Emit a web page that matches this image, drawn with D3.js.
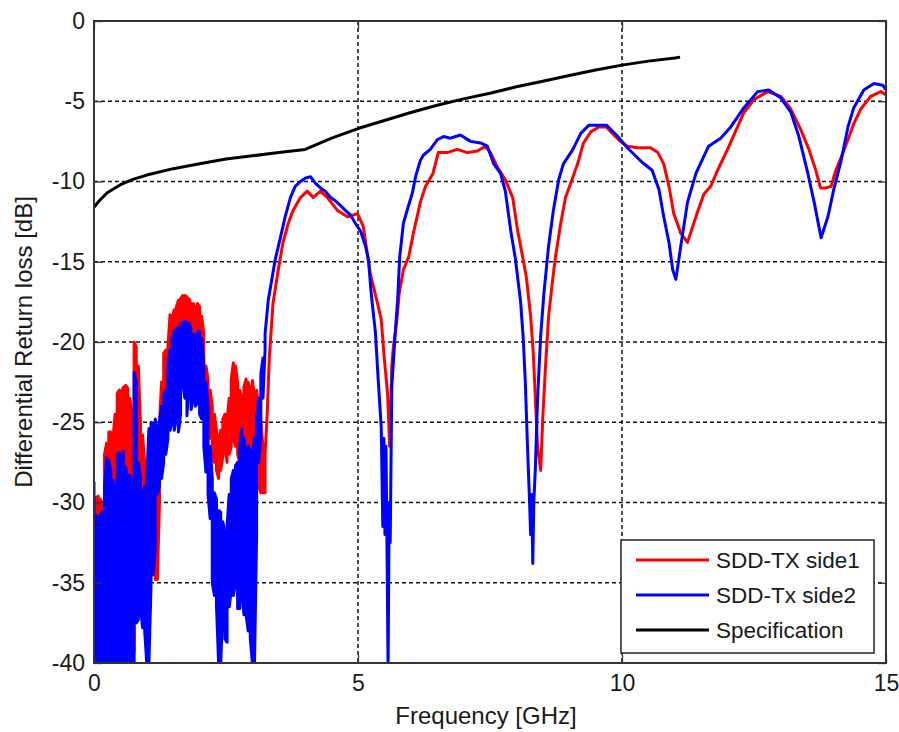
<!DOCTYPE html>
<html><head><meta charset="utf-8">
<script src="https://cdn.jsdelivr.net/npm/d3@7"></script>
<style>body{margin:0;background:#fff;} text{font-family:"Liberation Sans",Arial,sans-serif;}</style>
</head><body><svg id="c" width="899" height="732"></svg>
<script>
// ---- Data ----
const xTicks = [0, 5, 10, 15];
const yTicks = [0, -5, -10, -15, -20, -25, -30, -35, -40];
const seriesNames = ["SDD-TX side1", "SDD-Tx side2", "Specification"];
const xLabel = "Frequency [GHz]";
const yLabel = "Differential Return loss [dB]";

// Noisy low-frequency region: per-column envelope (GHz, dB)
const noiseF = [0.00,0.04,0.08,0.12,0.16,0.20,0.24,0.28,0.32,0.36,0.40,0.44,0.48,0.52,0.56,0.60,0.64,0.68,0.72,0.76,
  0.80,0.84,0.88,0.92,0.96,1.00,1.04,1.08,1.12,1.16,1.20,1.24,1.28,1.32,1.36,1.40,1.44,1.48,1.52,1.56,
  1.60,1.64,1.68,1.72,1.76,1.80,1.84,1.88,1.92,1.96,2.00,2.04,2.08,2.12,2.16,2.20,2.24,2.28,2.32,2.36,
  2.40,2.44,2.48,2.52,2.56,2.60,2.64,2.68,2.72,2.76,2.80,2.84,2.88,2.92,2.96,3.00,3.04,3.08,3.12,3.16,3.20,3.24];
const redTop = [-31.0,-29.7,-29.6,-29.8,-30.0,-27.0,-26.3,-25.6,-25.6,-26.0,-24.5,-23.2,-23.0,-23.1,-22.8,-22.7,-22.9,-23.5,-24.6,-20.0,
  -20.3,-21.5,-25.0,-25.8,-27.5,-27.7,-27.5,-26.0,-25.5,-26.0,-26.0,-25.0,-22.5,-20.7,-20.5,-20.3,-18.3,-18.5,-18.0,-17.8,
  -17.4,-17.3,-17.1,-17.1,-17.2,-17.3,-17.7,-17.6,-17.9,-17.6,-17.8,-18.4,-19.5,-21.5,-22.3,-23.0,-24.0,-24.5,-25.5,-26.0,
  -25.5,-24.8,-24.5,-25.0,-23.5,-22.3,-21.3,-21.5,-22.5,-23.0,-23.5,-22.8,-22.3,-22.5,-23.0,-22.4,-23.4,-23.0,-24.0,-25.0,-26.5,-27.0];
const redBot = [-34.0,-33.5,-33.0,-40.0,-32.8,-31.0,-30.0,-30.0,-30.5,-31.0,-30.0,-29.0,-29.0,-29.5,-29.0,-29.0,-30.0,-30.5,-31.0,-39.3,
  -33.0,-32.0,-31.0,-31.9,-32.0,-32.0,-31.0,-30.0,-30.0,-34.8,-34.8,-30.0,-27.0,-26.0,-25.5,-25.0,-24.0,-23.5,-23.0,-23.0,
  -23.0,-22.5,-21.5,-22.0,-22.5,-21.5,-22.5,-22.0,-22.5,-22.0,-22.5,-23.0,-24.0,-25.0,-25.5,-26.0,-27.0,-27.5,-28.0,-28.5,
  -28.0,-27.1,-26.5,-27.5,-27.0,-26.5,-26.0,-26.5,-27.0,-27.5,-27.0,-26.5,-26.0,-26.5,-27.0,-26.5,-27.0,-27.5,-29.0,-29.4,-29.4,-29.4];
const blueTop = [-28.7,-30.8,-31.0,-30.8,-30.6,-29.0,-27.2,-27.4,-28.0,-28.6,-29.2,-27.0,-26.9,-27.5,-26.8,-27.8,-28.5,-28.3,-28.8,-21.9,
  -22.5,-27.5,-28.4,-29.5,-29.0,-28.5,-25.4,-25.0,-25.2,-24.8,-25.5,-25.0,-24.0,-23.4,-23.0,-21.5,-20.5,-19.8,-19.3,-19.2,
  -19.1,-18.9,-18.8,-18.7,-18.9,-18.8,-19.3,-19.6,-19.5,-19.3,-19.4,-19.8,-21.5,-22.5,-24.0,-26.5,-28.5,-29.4,-29.8,-30.5,
  -30.6,-31.2,-31.9,-31.5,-29.5,-28.5,-28.0,-27.7,-27.5,-26.5,-25.4,-26.0,-26.9,-26.5,-26.8,-27.0,-26.0,-24.8,-23.5,-22.0,-21.0,-19.5];
const blueBot = [-40,-40,-40,-40,-40,-40,-40,-40,-40,-40,-40,-40,-40,-40,-40,-40,-40,-40,-40,-40,
  -37.5,-37.3,-36.5,-37.8,-38.0,-40,-40,-35.2,-34.5,-33.0,-29.5,-29.0,-28.5,-27.5,-27.0,-26.0,-25.5,-25.0,-25.5,-24.8,
  -25.6,-24.5,-22.5,-23.5,-24.6,-22.8,-24.2,-23.5,-24.0,-23.8,-24.5,-24.8,-26.5,-28.1,-29.5,-31.0,-35.0,-35.8,-36.5,-40,
  -40,-36.5,-38.5,-38.7,-36.5,-35.5,-35.8,-35.0,-36.6,-36.6,-35.5,-37.0,-37.0,-38.0,-38.5,-40,-40,-32.0,-27.5,-26.0,-23.5,-20.5];

// Smooth region above ~3.3 GHz
const redF = [3.28,3.32,3.39,3.49,3.58,3.68,3.77,3.91,4.04,4.15,4.29,4.42,4.61,4.80,4.99,5.10,5.23,5.37,5.44,5.50,
  5.56,5.60,5.64,5.67,5.73,5.78,5.86,5.96,6.05,6.18,6.28,6.42,6.52,6.69,6.88,7.07,7.26,7.41,7.51,7.64,
  7.79,7.93,8.02,8.13,8.19,8.27,8.32,8.36,8.40,8.46,8.50,8.55,8.61,8.68,8.74,8.84,8.93,9.03,9.16,9.27,
  9.41,9.56,9.70,9.82,9.97,10.10,10.30,10.54,10.68,10.79,10.89,10.98,11.11,11.24,11.34,11.44,11.55,11.68,11.81,12.00,
  12.16,12.31,12.50,12.76,13.01,13.20,13.39,13.54,13.67,13.76,13.86,13.96,14.05,14.15,14.28,14.39,14.52,14.71,14.90,15.00];
const redDB = [-24.5,-21.0,-17.6,-15.5,-13.8,-12.6,-11.8,-11.0,-10.6,-11.0,-10.6,-11.0,-11.8,-12.2,-12.0,-12.8,-15.7,-17.6,-18.6,-21.1,
  -23.2,-26.5,-21.5,-20.3,-18.8,-17.0,-15.5,-14.7,-13.2,-11.3,-10.3,-9.5,-8.2,-8.2,-8.0,-8.2,-8.1,-7.8,-8.2,-9.1,
  -9.9,-11.0,-13.0,-14.9,-16.0,-18.4,-20.7,-23.6,-26.5,-28.0,-24.7,-21.6,-18.4,-16.3,-14.7,-12.6,-11.0,-10.1,-8.9,-7.6,
  -6.9,-6.6,-6.6,-7.0,-7.5,-7.8,-7.9,-7.9,-8.2,-8.9,-10.3,-12.0,-13.2,-13.8,-12.8,-11.8,-10.8,-10.3,-9.3,-8.0,
  -6.8,-5.7,-4.9,-4.4,-4.7,-5.5,-6.8,-8.0,-9.3,-10.4,-10.4,-10.3,-9.3,-8.5,-7.4,-6.4,-5.5,-4.7,-4.4,-4.6];
const blueF = [3.30,3.43,3.53,3.62,3.72,3.81,3.91,4.00,4.10,4.19,4.29,4.38,4.48,4.57,4.67,4.76,4.86,4.95,5.05,5.14,
  5.20,5.24,5.27,5.33,5.38,5.44,5.47,5.49,5.51,5.53,5.55,5.57,5.59,5.61,5.64,5.70,5.75,5.79,5.86,5.94,
  6.03,6.09,6.18,6.24,6.37,6.50,6.62,6.75,6.94,7.13,7.32,7.45,7.57,7.70,7.79,7.89,7.98,8.08,8.13,8.17,
  8.21,8.25,8.27,8.29,8.31,8.33,8.36,8.40,8.46,8.52,8.61,8.70,8.80,8.89,9.07,9.22,9.37,9.54,9.71,9.92,
  10.10,10.38,10.57,10.70,10.79,10.89,10.96,11.02,11.11,11.24,11.40,11.64,11.87,12.06,12.31,12.57,12.78,13.01,13.20,13.35,
  13.52,13.64,13.77,13.90,14.01,14.15,14.28,14.39,14.58,14.77,14.94,15.00];
const blueDB = [-17.4,-14.9,-13.5,-12.2,-11.0,-10.3,-10.0,-9.8,-9.7,-10.1,-10.4,-10.6,-11.0,-11.2,-11.5,-11.8,-12.1,-12.6,-13.1,-14.0,
  -14.9,-16.6,-17.6,-19.4,-22.2,-25.3,-31.5,-26.0,-32.0,-26.5,-33.0,-40.5,-30.0,-32.5,-22.8,-19.7,-17.4,-14.7,-12.6,-11.7,
  -10.7,-9.7,-8.7,-8.35,-8.0,-7.4,-7.2,-7.3,-7.1,-7.5,-7.6,-7.8,-8.9,-9.5,-10.6,-13.0,-14.8,-17.5,-19.8,-22.6,
  -26.5,-30.0,-32.0,-29.5,-33.8,-30.0,-27.8,-23.6,-19.6,-17.0,-14.0,-11.8,-9.9,-8.9,-8.0,-7.0,-6.5,-6.5,-6.5,-7.2,
  -7.9,-8.8,-9.3,-10.5,-12.2,-13.8,-15.5,-16.1,-14.1,-11.3,-9.5,-7.8,-7.3,-6.6,-5.4,-4.4,-4.3,-4.8,-5.7,-7.2,
  -9.5,-11.3,-13.5,-12.2,-10.5,-8.7,-6.6,-5.4,-4.3,-3.9,-4.0,-4.3];
const specF = [0,0.1,0.25,0.5,0.75,1,1.5,2,2.5,3,3.5,4,4.5,5,5.5,6,6.5,7,7.5,8,8.5,9,9.5,10,10.5,11,11.1];
const specDB = [-11.6,-11.2,-10.7,-10.2,-9.85,-9.6,-9.2,-8.9,-8.6,-8.4,-8.2,-8.0,-7.3,-6.7,-6.2,-5.7,-5.25,-4.85,-4.5,-4.1,-3.75,-3.4,-3.05,-2.75,-2.5,-2.3,-2.25];

// ---- Layout ----
const L = 94, R = 886, T = 21, B = 663;
const svg = d3.select("#c");
const x = d3.scaleLinear().domain([0, 15]).range([L, R]);
const y = d3.scaleLinear().domain([-40, 0]).range([B, T]);
const FS = 23, LFS = 24;

svg.append("rect").attr("width", 899).attr("height", 732).attr("fill", "#fff");
svg.append("defs").append("clipPath").attr("id", "clip")
  .append("rect").attr("x", L).attr("y", T).attr("width", R - L).attr("height", B - T);

// grid
const grid = svg.append("g").attr("stroke", "#111").attr("stroke-width", 1.5).attr("stroke-dasharray", "4,3");
xTicks.filter(d => d > 0 && d < 15).forEach(d => grid.append("line").attr("x1", x(d)).attr("x2", x(d)).attr("y1", T).attr("y2", B));
yTicks.filter(d => d < 0 && d > -40).forEach(d => grid.append("line").attr("y1", y(d)).attr("y2", y(d)).attr("x1", L).attr("x2", R));

function zig(F, Tp, Bt) {
  const pts = [];
  F.forEach((f, i) => {
    if (i % 2 === 0) { pts.push([f, Tp[i]], [f, Bt[i]]); } else { pts.push([f, Bt[i]], [f, Tp[i]]); }
  });
  return pts;
}
const line = d3.line().x(d => x(d[0])).y(d => y(d[1]));
const plot = svg.append("g").attr("clip-path", "url(#clip)");

const redPts = zig(noiseF, redTop, redBot).concat(redF.map((f, i) => [f, redDB[i]]));
const bluePts = zig(noiseF, blueTop, blueBot).concat(blueF.map((f, i) => [f, blueDB[i]]));
const specPts = specF.map((f, i) => [f, specDB[i]]);

plot.append("path").attr("d", line(redPts)).attr("fill", "none").attr("stroke", "#ff0000").attr("stroke-width", 3).attr("stroke-linejoin", "round");
plot.append("path").attr("d", line(bluePts)).attr("fill", "none").attr("stroke", "#0000ff").attr("stroke-width", 3).attr("stroke-linejoin", "round");
plot.append("path").attr("d", line(specPts)).attr("fill", "none").attr("stroke", "#000").attr("stroke-width", 3).attr("stroke-linejoin", "round");

// axes
const fmt = d => String(d);
function styleAxis(g) {
  g.select(".domain").remove();
  g.selectAll(".tick line").attr("stroke", "#333").attr("stroke-width", 1.3);
  g.selectAll("text").attr("fill", "#1a1a1a").style("font-size", FS + "px").style("font-family", "'Liberation Sans', Arial, sans-serif");
}
svg.append("g").attr("transform", `translate(0,${B})`)
  .call(d3.axisBottom(x).tickValues(xTicks).tickFormat(fmt).tickSize(-8).tickPadding(12)).call(styleAxis);
svg.append("g").attr("transform", `translate(0,${T})`)
  .call(d3.axisTop(x).tickValues(xTicks).tickFormat("").tickSize(-8)).call(styleAxis);
svg.append("g").attr("transform", `translate(${L},0)`)
  .call(d3.axisLeft(y).tickValues(yTicks).tickFormat(fmt).tickSize(-8).tickPadding(9)).call(styleAxis);
svg.append("g").attr("transform", `translate(${R},0)`)
  .call(d3.axisRight(y).tickValues(yTicks).tickFormat("").tickSize(-8)).call(styleAxis);

svg.append("rect").attr("x", L).attr("y", T).attr("width", R - L).attr("height", B - T)
  .attr("fill", "none").attr("stroke", "#333").attr("stroke-width", 2);

// labels
svg.append("text").attr("x", 486).attr("y", 724).attr("text-anchor", "middle")
  .attr("fill", "#1a1a1a").style("font-size", LFS + "px").text(xLabel);
svg.append("text").attr("transform", `translate(32,${(T + B) / 2}) rotate(-90)`).attr("text-anchor", "middle")
  .attr("fill", "#1a1a1a").style("font-size", LFS + "px").text(yLabel);

// legend
const lg = svg.append("g");
lg.append("rect").attr("x", 621).attr("y", 540).attr("width", 253).attr("height", 113)
  .attr("fill", "#fff").attr("stroke", "#222").attr("stroke-width", 1.5);
const colors = ["#ff0000", "#0000ff", "#000000"];
seriesNames.forEach((n, i) => {
  const yy = 560 + i * 35;
  lg.append("line").attr("x1", 636).attr("x2", 709).attr("y1", yy).attr("y2", yy).attr("stroke", colors[i]).attr("stroke-width", 3);
  lg.append("text").attr("x", 716).attr("y", yy).attr("dy", "0.36em").attr("fill", "#1a1a1a").style("font-size", "22.5px").text(n);
});
</script></body></html>
